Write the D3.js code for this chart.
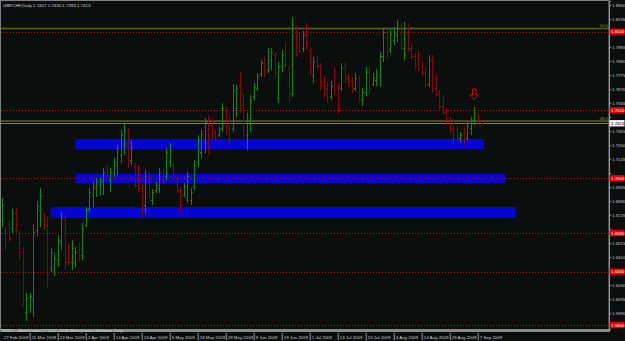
<!DOCTYPE html>
<html>
<head>
<meta charset="utf-8">
<script src="https://cdn.jsdelivr.net/npm/d3@7"></script>
<style>
  html, body { margin: 0; padding: 0; background: #0a0f0e; }
  svg { display: block; }
</style>
</head>
<body>
<svg id="chart"></svg>
<script>
// GBPCHF daily bars, 27 Feb 2009 .. 8 Sep 2009 (weekdays only)
var symbol = "GBPCHF,Daily";
var firstDay = "2009-02-27";

var opens = [
  1.6688,1.6613,1.6650,1.6628,1.6740,1.6590,1.6448,1.5998,1.6050,1.6088,
  1.6613,1.6763,1.6725,1.6650,1.6328,1.6313,1.6388,1.6523,1.6688,1.6403,
  1.6373,1.6373,1.6463,1.6425,1.6650,1.6778,1.6875,1.6928,1.6950,1.6973,
  1.7063,1.6988,1.7048,1.7100,1.7175,1.7250,1.7348,1.7138,1.7093,1.7063,
  1.6928,1.6800,1.7018,1.6838,1.6913,1.6928,1.7048,1.7018,1.7123,1.7100,
  1.7003,1.6913,1.6875,1.6853,1.6838,1.6943,1.7123,1.7198,1.7288,1.7423,
  1.7400,1.7348,1.7325,1.7378,1.7513,1.7378,1.7378,1.7528,1.7700,1.7550,
  1.7325,1.7438,1.7618,1.7678,1.7783,1.7865,1.7813,1.7888,1.7925,1.7603,
  1.7843,1.7940,1.7828,1.7640,1.8113,1.8000,1.7978,1.8083,1.7963,1.7775,
  1.7888,1.7843,1.7723,1.7678,1.7618,1.7775,1.7678,1.7678,1.7843,1.7768,
  1.7738,1.7678,1.7753,1.7588,1.7648,1.7798,1.7708,1.7738,1.7768,1.7918,
  1.8098,1.7963,1.8038,1.8075,1.8150,1.7978,1.8128,1.7978,1.7918,1.7873,
  1.7843,1.7798,1.7708,1.7888,1.7678,1.7633,1.7543,1.7498,1.7423,1.7378,
  1.7363,1.7303,1.7348,1.7303,1.7378,1.7438,1.7475,1.7427
];
var highs = [
  1.6853,1.6635,1.6688,1.6770,1.6778,1.6613,1.6485,1.6140,1.6140,1.6650,
  1.6830,1.6928,1.6740,1.6710,1.6478,1.6440,1.6575,1.6748,1.6725,1.6515,
  1.6538,1.6485,1.6515,1.6665,1.6785,1.6928,1.6973,1.7003,1.7003,1.7078,
  1.7100,1.7078,1.7153,1.7250,1.7363,1.7408,1.7378,1.7288,1.7115,1.7100,
  1.6965,1.7063,1.7048,1.6920,1.6973,1.7078,1.7078,1.7228,1.7265,1.7115,
  1.7010,1.6935,1.6965,1.7048,1.6928,1.7138,1.7325,1.7363,1.7453,1.7475,
  1.7445,1.7363,1.7385,1.7565,1.7535,1.7468,1.7708,1.7700,1.7798,1.7640,
  1.7490,1.7625,1.7715,1.7790,1.7888,1.7910,1.7978,1.7978,1.7948,1.7873,
  1.7963,1.8023,1.7850,1.8210,1.8143,1.8098,1.8105,1.8165,1.7985,1.7910,
  1.7918,1.7865,1.7768,1.7723,1.7730,1.7835,1.7715,1.7865,1.7873,1.7790,
  1.7760,1.7790,1.7775,1.7678,1.7835,1.7835,1.7790,1.7820,1.7948,1.8128,
  1.8120,1.8128,1.8135,1.8188,1.8173,1.8173,1.8165,1.8008,1.7940,1.7963,
  1.7873,1.7835,1.7925,1.7925,1.7783,1.7663,1.7625,1.7528,1.7460,1.7445,
  1.7400,1.7348,1.7385,1.7423,1.7460,1.7535,1.7490,1.7430
];
var lows = [
  1.6635,1.6463,1.6523,1.6590,1.6590,1.6388,1.6035,1.5930,1.5990,1.5960,
  1.6568,1.6635,1.6613,1.6178,1.6298,1.6268,1.6335,1.6463,1.6313,1.6350,
  1.6313,1.6328,1.6373,1.6388,1.6635,1.6748,1.6785,1.6860,1.6875,1.6875,
  1.7010,1.6898,1.7010,1.7025,1.7115,1.7175,1.7078,1.7100,1.6928,1.6890,
  1.6710,1.6740,1.6853,1.6800,1.6890,1.6890,1.6965,1.6988,1.7085,1.7010,
  1.6890,1.6740,1.6860,1.6815,1.6800,1.6913,1.7085,1.7153,1.7190,1.7175,
  1.7288,1.7280,1.7310,1.7348,1.7325,1.7250,1.7348,1.7460,1.7490,1.7310,
  1.7213,1.7348,1.7588,1.7655,1.7760,1.7760,1.7790,1.7813,1.7753,1.7565,
  1.7798,1.7828,1.7565,1.7610,1.7910,1.7940,1.7948,1.7963,1.7775,1.7715,
  1.7813,1.7663,1.7610,1.7565,1.7588,1.7625,1.7483,1.7655,1.7715,1.7685,
  1.7640,1.7655,1.7573,1.7543,1.7618,1.7633,1.7693,1.7693,1.7685,1.7873,
  1.7895,1.7940,1.8000,1.8023,1.7963,1.7888,1.7948,1.7895,1.7820,1.7805,
  1.7775,1.7685,1.7685,1.7648,1.7610,1.7513,1.7475,1.7400,1.7340,1.7250,
  1.7280,1.7273,1.7250,1.7288,1.7325,1.7400,1.7408,1.7393
];
var closes = [
  1.6800,1.6500,1.6553,1.6740,1.6628,1.6448,1.6088,1.6103,1.6118,1.6598,
  1.6793,1.6875,1.6643,1.6275,1.6448,1.6403,1.6538,1.6703,1.6373,1.6373,
  1.6478,1.6448,1.6403,1.6628,1.6763,1.6898,1.6943,1.6973,1.6988,1.7048,
  1.7025,1.7048,1.7123,1.7228,1.7325,1.7363,1.7138,1.7228,1.6950,1.6928,
  1.6763,1.7018,1.6898,1.6898,1.6950,1.7048,1.6988,1.7198,1.7213,1.7025,
  1.6913,1.6800,1.6943,1.7018,1.6898,1.7100,1.7288,1.7333,1.7423,1.7250,
  1.7318,1.7303,1.7370,1.7528,1.7363,1.7288,1.7663,1.7678,1.7528,1.7363,
  1.7453,1.7588,1.7685,1.7768,1.7865,1.7790,1.7948,1.7948,1.7798,1.7843,
  1.7925,1.7858,1.7625,1.8150,1.7963,1.7963,1.8075,1.8000,1.7813,1.7873,
  1.7843,1.7700,1.7663,1.7603,1.7693,1.7663,1.7528,1.7828,1.7753,1.7723,
  1.7678,1.7753,1.7625,1.7648,1.7798,1.7678,1.7753,1.7783,1.7918,1.8098,
  1.7948,1.8083,1.8098,1.8150,1.8000,1.8128,1.7978,1.7918,1.7850,1.7828,
  1.7798,1.7708,1.7888,1.7678,1.7633,1.7543,1.7498,1.7423,1.7363,1.7303,
  1.7303,1.7333,1.7288,1.7393,1.7438,1.7498,1.7423,1.7413
];

var dateTicks = ["27 Feb 2009","11 Mar 2009","23 Mar 2009","2 Apr 2009","14 Apr 2009",
  "24 Apr 2009","6 May 2009","18 May 2009","28 May 2009","9 Jun 2009","19 Jun 2009",
  "1 Jul 2009","13 Jul 2009","23 Jul 2009","4 Aug 2009","14 Aug 2009","26 Aug 2009","7 Sep 2009"];
var priceTicks = [1.8300,1.8195,1.8090,1.7985,1.7880,1.7775,1.7670,1.7565,1.7460,1.7355,
  1.7250,1.7145,1.7040,1.6935,1.6830,1.6725,1.6620,1.6515,1.6410,1.6305,1.6200,1.6095,1.5990,1.5885];

// horizontal support/resistance lines
var levelLines = [1.8100, 1.7510, 1.7000, 1.6590, 1.6300, 1.5900];
// fibo levels
var fiboNames = ["50.0", "38.2"];
var fiboPrices = [1.8124, 1.7430];
// blue zones (bar index start/end, price top/bottom)
var zoneStart = [21, 21, 14];
var zoneEnd = [137.8, 143.8, 146.9];
var zoneTop = [1.7295, 1.7033, 1.6785];
var zoneBottom = [1.7220, 1.6965, 1.6703];
// down arrow marker
var arrowBar = 135, arrowPrice = 1.7588;

var W = 625, H = 341;
var plotRight = 609, plotBottom = 329;
var fontFam = "'Liberation Sans', Arial, sans-serif";
var fs = 4.4;

// dates (weekdays)
var start = new Date(firstDay + "T00:00:00Z");
var dates = d3.utcDay.range(start, d3.utcDay.offset(start, 400))
  .filter(function(d) { return d.getUTCDay() !== 0 && d.getUTCDay() !== 6; })
  .slice(0, opens.length);
var fmtDate = d3.utcFormat("%-d %b %Y");
var dateLabels = dates.map(fmtDate);

var svg = d3.select("#chart").attr("width", W).attr("height", H);
svg.append("rect").attr("width", W).attr("height", H).attr("fill", "#0a0f0e");

var x = d3.scaleLinear().domain([0, 173.5]).range([1.7, 609]);
var y = d3.scaleLinear().domain([1.5870, 1.8330]).range([plotBottom, 1]);
var px = function(i) { return Math.round(x(i)) + 0.5; };
var py = function(p) { return Math.round(y(p)) + 0.5; };

svg.append("clipPath").attr("id", "plot")
  .append("rect").attr("x", 1).attr("y", 1).attr("width", plotRight - 1).attr("height", plotBottom - 1);
var g = svg.append("g").attr("clip-path", "url(#plot)");

// zones
g.selectAll("rect.zone").data(zoneTop).enter().append("rect")
  .attr("class", "zone")
  .attr("x", function(d, i) { return x(zoneStart[i]); })
  .attr("width", function(d, i) { return x(zoneEnd[i]) - x(zoneStart[i]); })
  .attr("y", function(d) { return y(d); })
  .attr("height", function(d, i) { return y(zoneBottom[i]) - y(d); })
  .attr("fill", "#0404d6");

// fibo lines
g.selectAll("line.fibo").data(fiboPrices).enter().append("line")
  .attr("x1", 1).attr("x2", plotRight)
  .attr("y1", function(d) { return y(d); }).attr("y2", function(d) { return y(d); })
  .attr("stroke", "#5f5f1c").attr("stroke-width", 1.6);
g.selectAll("text.fibo").data(fiboPrices).enter().append("text")
  .attr("x", plotRight - 1).attr("y", function(d) { return y(d) - 1.5; })
  .attr("text-anchor", "end")
  .style("font-family", fontFam).style("font-size", fs + "px")
  .attr("fill", "#8f8f10")
  .text(function(d, i) { return fiboNames[i]; });

// level lines
g.selectAll("line.level").data(levelLines).enter().append("line")
  .attr("x1", 1).attr("x2", plotRight)
  .attr("y1", py).attr("y2", py)
  .attr("stroke", "#a00000").attr("stroke-width", 1)
  .attr("stroke-dasharray", "1,2")
  .style("shape-rendering", "crispEdges");

// bid line
var last = opens.length - 1;
g.append("line")
  .attr("x1", 1).attr("x2", plotRight)
  .attr("y1", py(closes[last])).attr("y2", py(closes[last]))
  .attr("stroke", "#7a7a7a").attr("stroke-width", 1)
  .style("shape-rendering", "crispEdges");

// bars
var bars = g.selectAll("g.bar").data(opens).enter().append("g")
  .attr("stroke", function(d, i) { return closes[i] >= opens[i] ? "#0c8a0c" : "#900000"; })
  .attr("stroke-width", 1)
  .style("shape-rendering", "crispEdges");
bars.append("line")
  .attr("x1", function(d, i) { return px(i); }).attr("x2", function(d, i) { return px(i); })
  .attr("y1", function(d, i) { return y(highs[i]); }).attr("y2", function(d, i) { return y(lows[i]); });
bars.append("line")
  .attr("x1", function(d, i) { return px(i) - 1.5; }).attr("x2", function(d, i) { return px(i); })
  .attr("y1", function(d, i) { return py(opens[i]); }).attr("y2", function(d, i) { return py(opens[i]); });
bars.append("line")
  .attr("x1", function(d, i) { return px(i); }).attr("x2", function(d, i) { return px(i) + 1.5; })
  .attr("y1", function(d, i) { return py(closes[i]); }).attr("y2", function(d, i) { return py(closes[i]); });

// arrow
var ax = x(arrowBar), ay = y(arrowPrice);
g.append("path")
  .attr("d", "M" + (ax - 1.8) + "," + (ay - 11) + "h3.6v6h2.6l-4.4,4.8l-4.4,-4.8h2.6z")
  .attr("fill", "none").attr("stroke", "#e00000").attr("stroke-width", 1);

// frame
svg.append("rect").attr("x", 0.5).attr("y", 0.5).attr("width", plotRight - 0.5).attr("height", plotBottom)
  .attr("fill", "none").attr("stroke", "#808080").attr("stroke-width", 1);
svg.append("rect").attr("x", 0).attr("y", plotBottom + 0.5).attr("width", plotRight + 1).attr("height", 2.5)
  .attr("fill", "#8a8a8a");

// price axis; labels hidden where a price tag covers them
var last = opens.length - 1;
var tagPrices = levelLines.concat([closes[last]]);
var yAxis = d3.axisRight(y).tickValues(priceTicks).tickFormat(d3.format(".4f")).tickSize(2).tickPadding(1);
var ya = svg.append("g").attr("transform", "translate(" + plotRight + ",0)").call(yAxis);
ya.select(".domain").attr("stroke", "#9a9a9a");
ya.selectAll(".tick line").attr("stroke", "#9a9a9a");
ya.selectAll("text").attr("fill", "#c8c8c8").style("font-family", fontFam).style("font-size", fs + "px");
ya.selectAll(".tick text").filter(function(d) {
  return tagPrices.some(function(p) { return Math.abs(y(p) - y(d)) < 6.5; });
}).remove();

// price labels of level lines
var tags = svg.append("g");
function tag(p, bg, fg) {
  tags.append("rect").attr("x", plotRight + 0.5).attr("y", y(p) - 3.2).attr("width", 15).attr("height", 6.4).attr("fill", bg);
  tags.append("text").attr("x", plotRight + 2).attr("y", y(p) + 1.6)
    .style("font-family", fontFam).style("font-size", fs + "px").attr("fill", fg)
    .text(d3.format(".4f")(p));
}
levelLines.forEach(function(p) { tag(p, "#e00000", "#ffffff"); });
tag(closes[last], "#f0f0f0", "#000000");

// date axis
var tickIdx = dateTicks.map(function(s) { return dateLabels.indexOf(s); });
var xAxis = d3.axisBottom(x).tickValues(tickIdx)
  .tickFormat(function(d, i) { return dateTicks[i]; }).tickSize(8).tickPadding(0);
var xa = svg.append("g").attr("transform", "translate(0," + (plotBottom + 3) + ")").call(xAxis);
xa.select(".domain").remove();
xa.selectAll(".tick line").attr("stroke", "#9a9a9a").attr("y1", 1)
  .filter(function(d, i) { return i === 0; }).remove();
xa.selectAll("text").attr("text-anchor", "start").attr("x", 1.5).attr("y", 3).attr("dy", "0.8em")
  .attr("fill", "#c8c8c8").style("font-family", fontFam).style("font-size", fs + "px");

// title and copyright
svg.append("text").attr("x", 3).attr("y", 6.5)
  .style("font-family", fontFam).style("font-size", fs + "px").attr("fill", "#d0d0d0")
  .text(symbol + "  " + [opens[last], highs[last], lows[last], closes[last]].map(d3.format(".4f")).join(" "));
svg.append("text").attr("x", 2).attr("y", plotBottom + 2.6)
  .style("font-family", fontFam).style("font-size", fs + "px").attr("fill", "#d8d8d8")
  .text("PVDO - MetaTrader, \u00a9 2001-2008 MetaQuotes Software Corp.");
</script>
</body>
</html>
